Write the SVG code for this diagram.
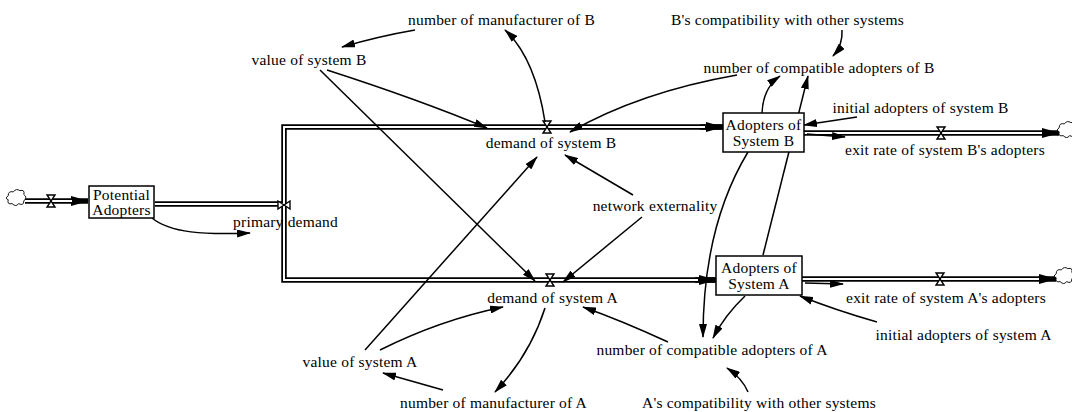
<svg xmlns="http://www.w3.org/2000/svg" width="1072" height="412" viewBox="0 0 1072 412">
  <style>
    text { font-family: "Liberation Serif", "Times New Roman", Times, "DejaVu Serif", serif; font-size: 15.5px; letter-spacing: 0.2px; fill: #000; text-anchor: middle; }
    .stock { fill: #fff; stroke: #000; stroke-width: 1.5; }
    .pipe { fill: none; stroke: #000; stroke-width: 5.5; }
    .pipe-in { fill: none; stroke: #fff; stroke-width: 2; }
    .valve { fill: #fff; stroke: #000; stroke-width: 1.4; stroke-linejoin: miter; }
    .cloud { fill: #fff; stroke: #000; stroke-width: 0.9; }
    .link { fill: none; stroke: #000; stroke-width: 1.5; marker-end: url(#ah); }
  </style>
  <defs>
    <marker id="ah" viewBox="0 0 14 8" refX="13" refY="4" markerWidth="14" markerHeight="8" orient="auto" markerUnits="userSpaceOnUse">
      <path d="M0,0 L14,4 L0,8 z" fill="#000"/>
    </marker>
    <marker id="fh" viewBox="0 0 18 10" refX="17" refY="5" markerWidth="18" markerHeight="10" orient="auto" markerUnits="userSpaceOnUse">
      <path d="M0,0 L18,5 L0,10 z" fill="#000"/>
    </marker>
    <path id="cloudShape" d="M-7.8,-5.2 q0,-5.2 5.2,-3.9 q2.6,-3.9 6.5,-1.3 q5.2,-1.3 3.9,3.9 q3.9,2.6 0,6.5 q0,5.2 -5.2,2.6 q-2.6,3.9 -6.5,0 q-5.2,1.3 -3.9,-3.9 q-3.9,-1.3 0,-3.9 z"/>
    <path id="valveH" d="M-4,-6 L4,-6 L-4,6 L4,6 z"/>
  </defs>

  <!-- material flows (pipes) -->
  <g id="flows">
    <!-- inflow to potential adopters -->
    <path class="pipe" d="M25,201 L88,201" marker-end="url(#fh)"/>
    <path class="pipe-in" d="M25,201 L72,201"/>
    <!-- primary demand pipe and split -->
    <path class="pipe" d="M155,204 L284,204"/>
    <path class="pipe" d="M722,127 L284,127 L284,280 L715,280"/>
    <path class="pipe" d="M700,127 L723,127" marker-end="url(#fh)"/>
    <path class="pipe" d="M695,280 L716,280" marker-end="url(#fh)"/>
    <path class="pipe-in" d="M155,204 L284,204"/>
    <path class="pipe-in" d="M705,127 L284,127 L284,280 L698,280"/>
    <!-- exits -->
    <path class="pipe" d="M804,133 L1059,133" marker-end="url(#fh)"/>
    <path class="pipe-in" d="M804,133 L1042,133"/>
    <path class="pipe" d="M802,279 L1056,279" marker-end="url(#fh)"/>
    <path class="pipe-in" d="M802,279 L1039,279"/>
  </g>

  <!-- sources and sinks -->
  <g id="clouds">
    <use href="#cloudShape" class="cloud" x="16" y="201"/>
    <use href="#cloudShape" class="cloud" x="1067" y="133"/>
    <use href="#cloudShape" class="cloud" x="1064" y="279"/>
  </g>

  <!-- rate valves -->
  <g id="valves">
    <use href="#valveH" class="valve" x="51" y="201"/>
    <use href="#valveH" class="valve" x="284" y="205" transform="rotate(90 284 205)"/>
    <use href="#valveH" class="valve" x="547" y="127"/>
    <use href="#valveH" class="valve" x="550" y="280"/>
    <use href="#valveH" class="valve" x="941" y="133"/>
    <use href="#valveH" class="valve" x="940" y="279"/>
  </g>

  <!-- information links -->
  <g id="connectors">
    <path class="link" d="M152,218 C170,233 205,235 250,233"/>
    <path class="link" d="M415,30 Q380,36 342,47"/>
    <path class="link" d="M327,70 Q420,100 487,128"/>
    <path class="link" d="M320,70 L535,281"/>
    <path class="link" d="M545,122 Q535,58 505,30"/>
    <path class="link" d="M737,75 Q640,92 570,132"/>
    <path class="link" d="M842,30 Q843,45 833,56"/>
    <path class="link" d="M762,113 Q763,88 780,76"/>
    <path class="link" d="M763,255 L808,76"/>
    <path class="link" d="M857,117 L804,125"/>
    <path class="link" d="M807,134 L845,137"/>
    <path class="link" d="M748,152 C725,190 703,250 703,337"/>
    <path class="link" d="M745,296 Q725,315 713,338"/>
    <path class="link" d="M748,392 Q742,378 727,368"/>
    <path class="link" d="M668,342 Q620,320 583,307"/>
    <path class="link" d="M877,322 Q835,310 800,296"/>
    <path class="link" d="M805,283 L843,284"/>
    <path class="link" d="M633,195 L565,155"/>
    <path class="link" d="M642,217 L563,282"/>
    <path class="link" d="M365,350 L537,157"/>
    <path class="link" d="M380,350 Q440,320 503,307"/>
    <path class="link" d="M545,308 Q530,355 495,392"/>
    <path class="link" d="M443,390 L383,373"/>
  </g>

  <!-- stocks -->
  <g id="potential-adopters">
    <rect class="stock" x="89" y="186" width="65" height="32"/>
    <text x="121.5" y="200">Potential</text>
    <text x="121.5" y="215">Adopters</text>
  </g>
  <g id="adopters-b">
    <rect class="stock" x="723" y="113" width="81" height="39"/>
    <text x="763.5" y="130">Adopters of</text>
    <text x="763.5" y="146">System B</text>
  </g>
  <g id="adopters-a">
    <rect class="stock" x="716" y="256" width="86" height="39"/>
    <text x="759" y="273">Adopters of</text>
    <text x="759" y="289">System A</text>
  </g>

  <!-- rates -->
  <g id="primary-demand"><text x="285.5" y="227">primary demand</text></g>
  <g id="demand-b"><text x="551" y="148">demand of system B</text></g>
  <g id="demand-a"><text x="552.5" y="303">demand of system A</text></g>
  <g id="exit-b"><text x="945" y="155">exit rate of system B's adopters</text></g>
  <g id="exit-a"><text x="946" y="303">exit rate of system A's adopters</text></g>

  <!-- auxiliaries -->
  <g id="manufacturers-b"><text x="501.5" y="25">number of manufacturer of B</text></g>
  <g id="value-b"><text x="309" y="65">value of system B</text></g>
  <g id="compat-b-other"><text x="787.5" y="25">B's compatibility with other systems</text></g>
  <g id="compat-adopters-b"><text x="819" y="73">number of compatible adopters of B</text></g>
  <g id="initial-b"><text x="920.5" y="113">initial adopters of system B</text></g>
  <g id="network"><text x="655" y="211">network externality</text></g>
  <g id="initial-a"><text x="963.5" y="340">initial adopters of system A</text></g>
  <g id="compat-adopters-a"><text x="712" y="355">number of compatible adopters of A</text></g>
  <g id="value-a"><text x="360" y="367">value of system A</text></g>
  <g id="manufacturers-a"><text x="493.5" y="408">number of manufacturer of A</text></g>
  <g id="compat-a-other"><text x="759" y="408">A's compatibility with other systems</text></g>
</svg>
